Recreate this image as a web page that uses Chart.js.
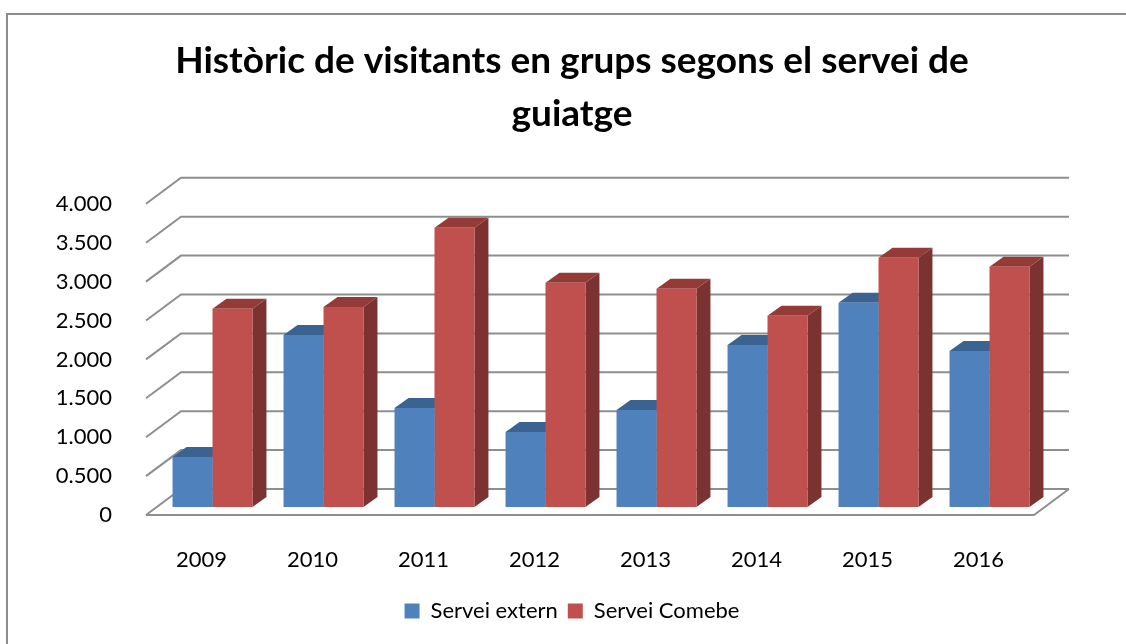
<!DOCTYPE html>
<html><head><meta charset="utf-8">
<style>html,body{margin:0;padding:0;background:#fff}#w{width:1126px;height:644px;position:relative}</style>
<script src="https://cdn.jsdelivr.net/npm/chart.js@4"></script>
</head><body><div id="w"><canvas id="c" width="1126" height="644"></canvas></div>
<script>
const categories = ['2009','2010','2011','2012','2013','2014','2015','2016'];
const serveiExtern = [643,2212,1273,965,1248,2084,2624,2006];
const serveiComebe = [2547,2572,3588,2881,2804,2457,3203,3087];
const titleLines = ['Històric de visitants en grups segons el servei de','guiatge'];
const FONT = 'Lato';
const WALL = {dx:35, dy:-26}, BAR = {dx:11, dy:-8, depthX:14, depthY:-10};
const shades = {
  '#4F81BD': {top:'#3B6391', side:'#2F4E73'},
  '#C0504D': {top:'#943B38', side:'#7B3230'}
};
const GRID = '#8E8E8E';
function line(ctx, pts){ctx.beginPath();pts.forEach((p,i)=>i?ctx.lineTo(p[0],p[1]):ctx.moveTo(p[0],p[1]));ctx.stroke();}
function poly(ctx, pts, fill){ctx.fillStyle=fill;ctx.beginPath();pts.forEach((p,i)=>i?ctx.lineTo(p[0],p[1]):ctx.moveTo(p[0],p[1]));ctx.closePath();ctx.fill();}
const frame3d = {
  id:'frame3d',
  beforeDraw(chart){
    const ctx=chart.ctx;ctx.save();ctx.strokeStyle='#8C8C8C';ctx.lineWidth=2;
    line(ctx,[[7,644],[7,14],[1126,14]]);ctx.restore();
  },
  beforeDatasetsDraw(chart){
    const ctx=chart.ctx,y=chart.scales.y,{left,right,bottom}=chart.chartArea;
    ctx.save();ctx.strokeStyle=GRID;ctx.lineWidth=2;ctx.lineCap='butt';ctx.lineJoin='miter';
    y.ticks.forEach(t=>{
      const py=y.getPixelForValue(t.value);
      line(ctx,[[left,py],[left+WALL.dx,py+WALL.dy],[right+WALL.dx,py+WALL.dy]]);
    });
    line(ctx,[[left,bottom],[right,bottom],[right+WALL.dx,bottom+WALL.dy]]);
    ctx.restore();
    ctx.save();
    chart.data.datasets.forEach((ds,i)=>{
      const s=shades[ds.backgroundColor];
      chart.getDatasetMeta(i).data.forEach(b=>{
        const h=b.width/2,x0=b.x-h+BAR.dx,x1=b.x+h+BAR.dx,yt=b.y+BAR.dy,yb=b.base+BAR.dy,dx=BAR.depthX,dy=BAR.depthY;
        poly(ctx,[[x1,yt],[x1+dx,yt+dy],[x1+dx,yb+dy],[x1,yb]],s.side);
        poly(ctx,[[x0,yt],[x0+dx,yt+dy],[x1+dx,yt+dy],[x1,yt]],s.top);
      });
    });
    ctx.translate(BAR.dx,BAR.dy);
  },
  afterDatasetsDraw(chart){chart.ctx.restore();}
};
new Chart(document.getElementById('c'),{
  type:'bar',
  data:{labels:categories,datasets:[
    {label:'Servei extern',data:serveiExtern,backgroundColor:'#4F81BD',borderWidth:0},
    {label:'Servei Comebe',data:serveiComebe,backgroundColor:'#C0504D',borderWidth:0}
  ]},
  options:{
    responsive:false,animation:false,
    layout:{padding:{left:18,right:0,top:0,bottom:12}},
    categoryPercentage:0.72,barPercentage:1,
    datasets:{bar:{categoryPercentage:0.72,barPercentage:1}},
    plugins:{
      tooltip:{enabled:false},
      title:{display:true,text:titleLines,color:'#000',font:{family:FONT,size:37,weight:'bold',lineHeight:1.43},padding:{top:35,bottom:63}},
      legend:{position:'bottom',labels:{color:'#000',font:{family:FONT,size:22},boxWidth:15,boxHeight:15,padding:10}}
    },
    scales:{
      x:{grid:{display:false},border:{display:false},
         ticks:{color:'#000',font:{family:FONT,size:22},padding:24,maxRotation:0},
         afterFit(s){s.height=75;}},
      y:{min:0,max:4000,grid:{display:false},border:{display:false},
         ticks:{stepSize:500,color:'#000',font:{family:FONT,size:22},padding:26,
           callback:v=>v===0?'0':(Math.floor(v/1000)+'.'+String(v%1000).padStart(3,'0'))},
         afterFit(s){s.width=128;}},
      pad:{position:'right',display:true,grid:{display:false},border:{display:false},ticks:{display:false},
         afterFit(s){s.width=92;}}
    }
  },
  plugins:[frame3d]
});
</script></body></html>
